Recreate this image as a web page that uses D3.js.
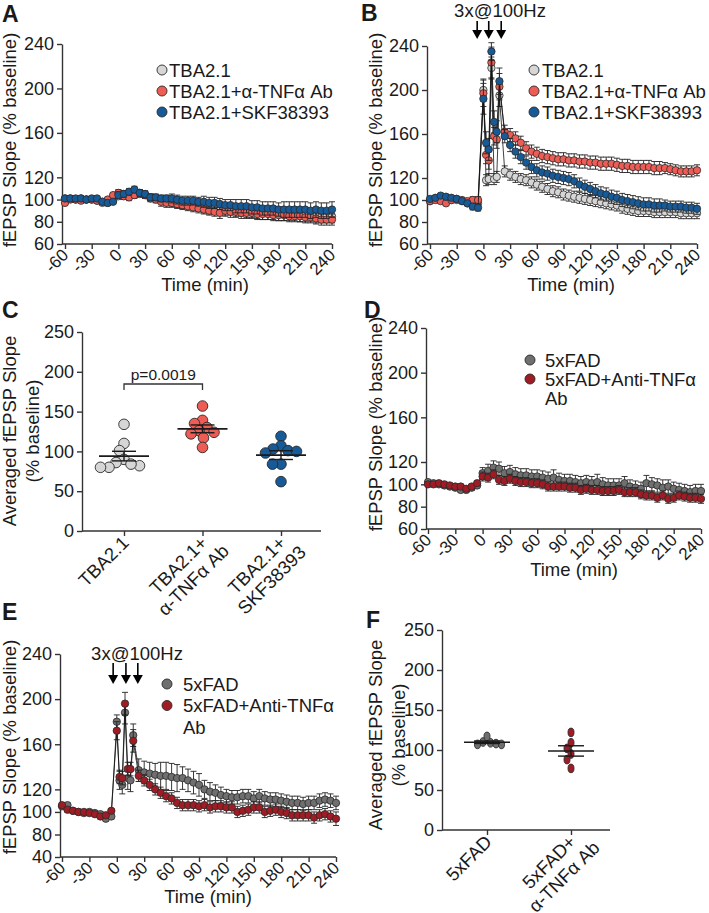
<!DOCTYPE html>
<html>
<head>
<meta charset="utf-8">
<script src="https://cdn.jsdelivr.net/npm/d3@7"></script>
<style>
  body { margin: 0; background: #fff; }
  text { font-family: Arial, "Liberation Sans", sans-serif; fill: #1a1a1a; }
</style>
</head>
<body>
<svg id="fig" width="709" height="913" xmlns="http://www.w3.org/2000/svg"></svg>
<script>
// ---------- data ----------
var timeTicks = [-60,-30,0,30,60,90,120,150,180,210,240];
var yTicksTime = [60,80,100,120,160,200,240];
var yTicksE = [40,80,100,120,160,200,240];
var yTicksAvg = [0,50,100,150,200,250];

// panels A and D: one point every 6 min
var timesA = [-60,-54,-48,-42,-36,-30,-24,-18,-12,-6, 0,6,12,18,24,30,36,42,48,54,
  60,66,72,78,84,90,96,102,108,114, 120,126,132,138,144,150,156,162,168,174,
  180,186,192,198,204,210,216,222,228,234, 240];
// panels B and E: tetanus period sampled more densely
var timesB = [-60,-54,-48,-42,-36,-30,-24,-18,-12,-6, 0,3,6,9,12,15,18,
  24,30,36,42,48,54,60,66,72,78, 84,90,96,102,108,114,120,126,132,138,
  144,150,156,162,168,174,180,186,192,198, 204,210,216,222,228,234,240];

var aGray = [101,101,100,101,100,100,99,97,97,99, 103,105,106,107,105,104,102,101,100,99,
  98,97,96,96,95,94,93,92,92,91, 91,91,90,90,89,89,89,88,88,88, 87,87,87,87,86,86,86,85,85,85, 85];
var aRed = [97,100,100,99,100,100,99,98,100,104, 106,103,102,104,106,104,101,100,98,97,
  97,96,95,94,93,92,91,90,89,88, 90,89,89,88,88,88,87,87,87,86, 86,86,85,85,85,84,84,83,82,82, 82];
var aBlue = [101,101,101,101,100,101,101,98,97,98, 104,105,107,109,106,105,102,102,101,101,
  101,100,99,99,99,98,98,97,97,96, 95,95,94,94,94,93,93,92,92,92, 91,91,91,91,91,91,90,91,90,90, 91];
var aGrayErr = [2,2,2,2,2,2,2,2,2,2, 3,3,3,3,3,3,3,3,3,4, 4,4,4,4,4,4,5,5,5,5, 5,5,5,5,5,5,6,6,6,6, 6,6,6,6,6,6,6,6,6,6, 6];
var aRedErr = [2,2,2,2,2,2,2,2,2,2, 3,3,3,3,3,3,3,3,4,4, 4,4,4,4,4,4,4,4,4,5, 5,5,5,5,5,5,5,5,5,5, 5,5,5,5,5,5,5,5,5,5, 5];
var aBlueErr = [2,2,2,2,2,2,2,2,2,2, 3,3,3,3,3,3,3,3,3,3, 4,4,4,4,4,4,5,5,5,5, 5,5,6,6,6,6,6,6,6,6, 6,7,7,7,7,7,7,7,7,7, 7];

var bGray = [99,101,102,101,100,100,99,97,95,97, 200,118,119,220,119,121,195,
  126,123,121,119,118,116,114,112,110,108, 107,105,104,103,102,101,100,99,98,97,
  96,95,93,92,91,90,90,90,89,89, 89,89,89,88,88,88,88];
var bRed = [99,100,99,97,100,101,100,99,100,100, 197,141,136,225,158,155,203,
  162,159,156,152,147,144,142,140,139,138, 137,137,136,136,135,135,134,134,133,133,
  133,132,131,131,130,130,130,130,129,129, 129,128,127,126,126,126,127];
var bBlue = [101,102,104,103,102,101,99,97,94,93, 192,152,146,235,171,162,208,
  158,150,144,139,134,130,127,125,124,122, 121,120,119,117,114,112,110,108,106,105,
  103,102,100,99,98,97,96,96,95,95, 95,94,94,94,93,93,92];
var bGrayErr = [2,2,2,2,2,2,2,2,3,3, 10,5,5,10,5,5,10, 5,5,5,5,5,5,5,5,5,5,
  5,5,5,5,5,5,5,5,5,5, 5,5,5,5,5,5,5,5,5,5, 5,5,5,5,5,5,5];
var bRedErr = [2,2,2,2,2,2,2,2,3,3, 12,8,8,14,8,8,12, 6,6,6,6,6,6,6,6,6,6,
  6,6,6,6,6,6,6,6,6,6, 6,6,6,6,6,6,6,6,6,6, 5,5,5,5,5,5,5];
var bBlueErr = [2,2,2,2,2,2,2,2,3,3, 14,10,10,8,10,10,12, 6,6,6,6,6,6,6,6,6,6,
  6,6,6,6,6,6,6,6,6,6, 6,6,6,6,6,6,6,6,6,6, 5,5,5,5,5,5,5];
var stimB = [-7, 6, 20];

var cGroups = [["TBA2.1"], ["TBA2.1+", "α-TNFα Ab"], ["TBA2.1+", "SKF38393"]];
var cGray = [134,110,101,90,86,82,80,80,84];
var cRed = [157,139,135,130,126,124,122,117,105];
var cBlue = [119,107,103,101,100,98,84,84,62];
var cPvalue = "p=0.0019";

var dGray = [102,101,100,99,98,97,95,95,97,99, 110,112,115,114,110,111,109,108,108,107,
  107,106,105,106,104,103,103,102,101,102, 101,102,100,99,99,99,101,98,97,96,
  101,100,99,97,98,96,95,94,93,94, 94];
var dRed = [100,100,101,100,99,98,98,96,98,101, 107,106,109,104,103,105,103,102,102,101,
  101,100,98,98,98,98,97,97,95,96, 95,95,94,94,94,95,93,93,93,91,
  90,90,88,90,87,88,90,89,88,88, 87];
var dGrayErr = [2,2,2,2,2,2,2,2,2,2, 5,6,6,6,6,6,6,6,6,6, 6,6,6,7,6,6,6,6,6,6,
  6,7,6,6,6,6,6,6,6,6, 7,6,6,7,6,6,6,6,6,6, 6];
var dRedErr = [2,2,2,2,2,2,2,2,2,2, 4,4,4,4,4,4,4,4,4,4, 4,4,4,4,4,4,4,4,4,4,
  4,4,4,4,4,4,4,4,4,4, 4,4,4,4,4,4,4,4,4,4, 4];

var eGray = [105,106,101,100,99,100,99,98,94,96, 180,128,124,188,130,128,168,
  137,135,134,133,132,132,131,130,130,128, 126,124,120,118,117,115,114,113,113,114,
  114,112,114,112,111,111,110,109,108,108, 107,108,108,110,111,110,108];
var eRed = [106,102,101,100,100,99,98,96,97,101, 172,131,130,196,138,138,163,
  132,128,124,120,117,114,112,108,106,106, 106,105,106,104,105,105,104,104,100,101,
  102,104,104,100,101,102,100,99,97,97, 97,97,95,97,98,96,94];
var eGrayErr = [2,2,2,2,2,2,2,2,2,2, 6,8,8,10,10,10,10, 10,10,10,10,12,12,12,12,10,10,
  10,10,8,8,7,7,6,6,6,6, 6,6,6,6,6,6,6,6,6,6, 6,6,6,6,6,6,6];
var eRedErr = [2,2,2,2,2,2,2,2,2,2, 8,6,6,10,6,6,10, 5,5,5,5,5,5,5,5,5,5,
  5,5,5,5,5,5,5,5,5,5, 5,5,5,5,5,5,5,5,5,5, 5,5,5,5,5,5,6];
var stimE = [-4, 10, 23];

var fGroups = [["5xFAD"], ["5xFAD+", "α-TNFα Ab"]];
var fGray = [110,109,108,107,107,117];
var fRed = [122,109,102,95,88,77];

// ---------- styles ----------
var col = {
  tbaGray: "#d6d6d6", tbaRed: "#ee5d55", tbaBlue: "#175a98",
  fadGray: "#6f6f6f", fadRed: "#a01c24"
};
var FONT = "Arial, 'Liberation Sans', sans-serif";
var svg = d3.select("#fig");

function styleAxis(a, fs) {
  a.attr("font-family", FONT).attr("font-size", fs);
  a.selectAll(".domain, .tick line").attr("stroke", "#333").attr("stroke-width", 1.4);
  a.selectAll(".tick text").attr("fill", "#1a1a1a");
}

function panelLetter(t, x, y) {
  svg.append("text").attr("x", x).attr("y", y).attr("font-size", 23)
    .attr("font-weight", "bold").text(t);
}

function yTitle(lines, x, y, gap) {
  var t = svg.append("text").attr("transform", "translate(" + x + "," + y + ") rotate(-90)")
    .attr("text-anchor", "middle").attr("font-size", 18.5);
  lines.forEach(function(l, i) {
    t.append("tspan").attr("x", 0).attr("y", i * gap).text(l);
  });
}

function timePanel(p) {
  var x = d3.scaleLinear().domain([-60, 240]).range([p.x0, p.x1]);
  var y = p.y;
  var g = svg.append("g");

  var ya = g.append("g").attr("transform", "translate(" + p.ax + ",0)")
    .call(d3.axisLeft(y).tickValues(p.yTicks).tickSize(5).tickPadding(3).tickSizeOuter(0)
      .tickFormat(function(d) { return String(d); }));
  styleAxis(ya, 18);

  var xa = g.append("g").attr("transform", "translate(0," + p.bottom + ")")
    .call(d3.axisBottom(x).tickValues(timeTicks).tickSize(5).tickSizeOuter(0)
      .tickFormat(function(d) { return String(d); }));
  xa.select(".domain").attr("d", "M" + p.ax + ",0H" + p.x1);
  styleAxis(xa, 17);
  xa.selectAll(".tick text").attr("x", 0).attr("y", 0).attr("dy", 0)
    .attr("text-anchor", "end").attr("transform", "translate(4,12) rotate(-45)");

  svg.append("text").attr("x", p.xtX).attr("y", p.xtY).attr("text-anchor", "middle")
    .attr("font-size", 18.5).text("Time (min)");
  yTitle(["fEPSP Slope (% baseline)"], p.ytX, p.ytY, 0);

  p.series.forEach(function(s) {
    var pts = p.times.map(function(t, i) { return { t: t, v: s.vals[i], e: s.err[i] }; });
    var gs = g.append("g");
    var eb = gs.append("g").attr("stroke", "#222").attr("stroke-width", 0.9);
    pts.forEach(function(d) {
      var cx = x(d.t), y1 = y(d.v - d.e), y2 = y(d.v + d.e);
      eb.append("line").attr("x1", cx).attr("x2", cx).attr("y1", y1).attr("y2", y2);
      eb.append("line").attr("x1", cx - 3).attr("x2", cx + 3).attr("y1", y1).attr("y2", y1);
      eb.append("line").attr("x1", cx - 3).attr("x2", cx + 3).attr("y1", y2).attr("y2", y2);
    });
    gs.append("path").datum(pts)
      .attr("d", d3.line().x(function(d) { return x(d.t); }).y(function(d) { return y(d.v); }))
      .attr("fill", "none").attr("stroke", "#111").attr("stroke-width", 0.8);
    gs.selectAll("circle").data(pts).enter().append("circle")
      .attr("cx", function(d) { return x(d.t); })
      .attr("cy", function(d) { return y(d.v); })
      .attr("r", 3.7).attr("fill", s.color).attr("stroke", "#2a2a2a").attr("stroke-width", 0.8);
  });

  if (p.stim) {
    p.stim.forEach(function(t) {
      var xx = x(t);
      g.append("line").attr("x1", xx).attr("x2", xx).attr("y1", p.arrTop).attr("y2", p.arrTip - 6)
        .attr("stroke", "#000").attr("stroke-width", 1.6);
      g.append("path").attr("d", "M" + (xx - 5) + "," + (p.arrTip - 9) + "L" + (xx + 5) + "," +
        (p.arrTip - 9) + "L" + xx + "," + p.arrTip + "Z").attr("fill", "#000");
    });
    svg.append("text").attr("x", p.stimTX).attr("y", p.stimTY).attr("text-anchor", "middle")
      .attr("font-size", 18.5).text("3x@100Hz");
  }

  // legend
  var lg = svg.append("g").attr("font-size", 18.5);
  p.legend.items.forEach(function(it, i) {
    var yy = p.legend.y + i * p.legend.dy;
    lg.append("circle").attr("cx", p.legend.cx).attr("cy", yy).attr("r", 5)
      .attr("fill", it.color).attr("stroke", "#2a2a2a").attr("stroke-width", 0.9);
    it.lines.forEach(function(l, j) {
      lg.append("text").attr("x", p.legend.tx).attr("y", yy + j * p.legend.dy).attr("dy", "0.36em").text(l);
    });
  });
}

// simple beeswarm; points may overlap a little, as in the original
function swarm(vals, y, cx, rx, ry, pack) {
  var placed = [];
  var order = vals.map(function(v, i) { return i; })
    .sort(function(a, b) { return vals[b] - vals[a]; });
  var out = new Array(vals.length);
  order.forEach(function(i) {
    var yy = y(vals[i]);
    var best = null;
    for (var k = 0; k < 200 && best === null; k++) {
      var off = (k % 2 === 0 ? 1 : -1) * Math.ceil(k / 2) * 0.5;
      var ok = placed.every(function(q) {
        var dx = (q.x - (cx + off)) / (2 * rx * pack), dy = (q.y - yy) / (2 * ry * pack);
        return dx * dx + dy * dy >= 1;
      });
      if (ok) best = cx + off;
    }
    var pt = { x: best, y: yy };
    placed.push(pt);
    out[i] = pt;
  });
  return out;
}

function dotPanel(p) {
  var y = d3.scaleLinear().domain([0, 250]).range([p.bottom, p.top]);
  var x = d3.scalePoint().domain(p.groups.map(function(g) { return g.join(" "); })).range([p.c0, p.c1]);
  var g = svg.append("g");

  var ya = g.append("g").attr("transform", "translate(" + p.ax + ",0)")
    .call(d3.axisLeft(y).tickValues(yTicksAvg).tickSize(5).tickPadding(3).tickSizeOuter(0));
  styleAxis(ya, 18);
  var xa = g.append("g").attr("transform", "translate(0," + p.bottom + ")")
    .call(d3.axisBottom(x).tickSize(5).tickSizeOuter(0));
  xa.select(".domain").attr("d", "M" + p.ax + ",0H" + p.xEnd);
  styleAxis(xa, 18.5);
  xa.selectAll(".tick text").remove();

  p.groups.forEach(function(lines, i) {
    var cx = x(lines.join(" "));
    var t = g.append("text").attr("font-size", 18.5).attr("text-anchor", "middle")
      .attr("transform", "translate(" + (cx + 6) + "," + (p.bottom + 13) + ") rotate(-45)");
    var sp = lines.map(function(l, j) {
      return t.append("tspan").attr("y", j * 21).text(l);
    });
    var w0 = sp[0].node().getComputedTextLength();
    sp.forEach(function(s) { s.attr("x", -w0 / 2); });
  });

  yTitle(["Averaged fEPSP Slope", "(% baseline)"], p.ytX, p.ytY, 23);

  p.series.forEach(function(s, i) {
    var cx = x(p.groups[i].join(" "));
    var pts = swarm(s.vals, y, cx, p.rx, p.ry, p.pack);
    g.selectAll(null).data(pts).enter().append("ellipse")
      .attr("cx", function(d) { return d.x; }).attr("cy", function(d) { return d.y; })
      .attr("rx", p.rx).attr("ry", p.ry).attr("fill", s.color)
      .attr("stroke", "#2a2a2a").attr("stroke-width", 0.9);
    var m = d3.mean(s.vals), sem = d3.deviation(s.vals) / Math.sqrt(s.vals.length);
    g.append("line").attr("x1", cx - p.mw).attr("x2", cx + p.mw).attr("y1", y(m)).attr("y2", y(m))
      .attr("stroke", "#1a1a1a").attr("stroke-width", 1.6);
    [m - sem, m + sem].forEach(function(v) {
      g.append("line").attr("x1", cx - p.sw).attr("x2", cx + p.sw).attr("y1", y(v)).attr("y2", y(v))
        .attr("stroke", "#1a1a1a").attr("stroke-width", 1.4);
    });
    g.append("line").attr("x1", cx).attr("x2", cx).attr("y1", y(m - sem)).attr("y2", y(m + sem))
      .attr("stroke", "#1a1a1a").attr("stroke-width", 1.4);
  });

  if (p.bracket) {
    var xa0 = x(p.groups[0].join(" ")), xa1 = x(p.groups[1].join(" "));
    g.append("path").attr("d", "M" + xa0 + "," + (p.bracket.y + 6) + "V" + p.bracket.y + "H" + xa1 + "V" + (p.bracket.y + 6))
      .attr("fill", "none").attr("stroke", "#333").attr("stroke-width", 1.3);
    g.append("text").attr("x", (xa0 + xa1) / 2).attr("y", p.bracket.y - 4).attr("text-anchor", "middle")
      .attr("font-size", 15.5).text(p.bracket.text);
  }
}

// ---------- panels ----------
panelLetter("A", 2, 22);
timePanel({
  x0: 65, x1: 332, ax: 62, bottom: 244,
  y: d3.scaleLinear().domain([60, 240]).range([244, 44]), yTicks: yTicksTime,
  times: timesA,
  series: [
    { vals: aGray, err: aGrayErr, color: col.tbaGray },
    { vals: aRed, err: aRedErr, color: col.tbaRed },
    { vals: aBlue, err: aBlueErr, color: col.tbaBlue }
  ],
  xtX: 205, xtY: 291, ytX: 16, ytY: 140,
  legend: { cx: 162, tx: 169, y: 70, dy: 21, items: [
    { color: col.tbaGray, lines: ["TBA2.1"] },
    { color: col.tbaRed, lines: ["TBA2.1+α-TNFα Ab"] },
    { color: col.tbaBlue, lines: ["TBA2.1+SKF38393"] }] }
});

panelLetter("B", 361, 21);
timePanel({
  x0: 430, x1: 697, ax: 427, bottom: 244,
  y: d3.scaleLinear().domain([60, 240]).range([244, 46]), yTicks: yTicksTime,
  times: timesB,
  series: [
    { vals: bGray, err: bGrayErr, color: col.tbaGray },
    { vals: bRed, err: bRedErr, color: col.tbaRed },
    { vals: bBlue, err: bBlueErr, color: col.tbaBlue }
  ],
  stim: stimB, arrTop: 21, arrTip: 39, stimTX: 500, stimTY: 17,
  xtX: 571, xtY: 291, ytX: 382, ytY: 140,
  legend: { cx: 534, tx: 542, y: 70, dy: 21, items: [
    { color: col.tbaGray, lines: ["TBA2.1"] },
    { color: col.tbaRed, lines: ["TBA2.1+α-TNFα Ab"] },
    { color: col.tbaBlue, lines: ["TBA2.1+SKF38393"] }] }
});

panelLetter("C", 2, 318);
dotPanel({
  ax: 82, xEnd: 321, bottom: 531, top: 332, c0: 124, c1: 281,
  groups: cGroups, rx: 5.3, ry: 5.3, pack: 0.78, mw: 25, sw: 12,
  series: [
    { vals: cGray, color: col.tbaGray },
    { vals: cRed, color: col.tbaRed },
    { vals: cBlue, color: col.tbaBlue }
  ],
  bracket: { y: 384, text: cPvalue },
  ytX: 16, ytY: 431
});

panelLetter("D", 364, 318);
timePanel({
  x0: 428, x1: 701, ax: 426, bottom: 529,
  y: d3.scaleLinear().domain([60, 240]).range([529, 328]), yTicks: yTicksTime,
  times: timesA,
  series: [
    { vals: dGray, err: dGrayErr, color: col.fadGray },
    { vals: dRed, err: dRedErr, color: col.fadRed }
  ],
  xtX: 574, xtY: 576, ytX: 382, ytY: 424,
  legend: { cx: 530, tx: 545, y: 360, dy: 19, items: [
    { color: col.fadGray, lines: ["5xFAD"] },
    { color: col.fadRed, lines: ["5xFAD+Anti-TNFα", "Ab"] }] }
});

panelLetter("E", 2, 620);
timePanel({
  x0: 62, x1: 336, ax: 60, bottom: 857,
  y: d3.scaleLinear().domain([40, 80, 240]).range([857, 834.5, 654]), yTicks: yTicksE,
  times: timesB,
  series: [
    { vals: eGray, err: eGrayErr, color: col.fadGray },
    { vals: eRed, err: eRedErr, color: col.fadRed }
  ],
  stim: stimE, arrTop: 663, arrTip: 684, stimTX: 137, stimTY: 660,
  xtX: 208, xtY: 903, ytX: 16, ytY: 747,
  legend: { cx: 167, tx: 183, y: 684, dy: 21.5, items: [
    { color: col.fadGray, lines: ["5xFAD"] },
    { color: col.fadRed, lines: ["5xFAD+Anti-TNFα", "Ab"] }] }
});

panelLetter("F", 366, 628);
dotPanel({
  ax: 442, xEnd: 610, bottom: 830, top: 630, c0: 487, c1: 571,
  groups: fGroups, rx: 3, ry: 4.3, pack: 0.9, mw: 23, sw: 13,
  series: [
    { vals: fGray, color: col.fadGray },
    { vals: fRed, color: col.fadRed }
  ],
  ytX: 382, ytY: 735
});
</script>
</body>
</html>
